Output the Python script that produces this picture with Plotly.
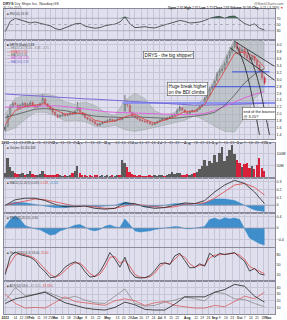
import numpy as np
import pandas as pd
import plotly.graph_objects as go
from plotly.subplots import make_subplots

# ---------------- data: DRYS 2013, one bar per two sessions ----------------
opens = [1.55,1.65,1.98,2.22,2.32,2.26,2.18,2.24,2.32,2.22,
         2.27,2.34,2.26,2.20,2.24,2.32,2.44,2.30,2.22,2.15,
         2.06,1.98,1.92,1.95,2.00,1.96,1.98,2.03,2.00,2.10,
         2.18,2.05,1.98,1.90,1.85,1.82,1.78,1.72,1.68,1.72,
         1.76,1.78,1.82,1.85,1.80,1.82,1.87,1.84,2.10,2.32,
         2.26,2.05,1.95,1.90,1.86,1.82,1.80,1.78,1.76,1.72,
         1.70,1.74,1.78,1.82,1.87,1.84,1.88,1.92,1.96,2.00,
         2.10,2.18,2.12,2.05,2.02,2.06,2.11,2.08,2.14,2.22,
         2.30,2.46,2.56,2.74,2.82,2.98,3.18,3.26,3.32,3.48,
         3.68,3.82,3.95,4.05,3.92,3.80,3.88,3.70,3.62,3.58,
         3.66,3.55,3.42,3.25,3.05]
highs = [1.70,2.00,2.28,2.36,2.36,2.30,2.30,2.35,2.34,2.32,
         2.38,2.36,2.28,2.28,2.34,2.58,2.46,2.32,2.24,2.16,
         2.08,2.00,1.98,2.04,2.02,2.01,2.06,2.05,2.12,2.35,
         2.20,2.06,2.00,1.92,1.88,1.84,1.79,1.74,1.75,1.79,
         1.81,1.85,1.88,1.86,1.85,1.89,1.88,1.91,2.55,2.40,
         2.28,2.07,1.97,1.92,1.88,1.85,1.83,1.80,1.77,1.74,
         1.77,1.81,1.85,1.89,1.88,1.91,1.95,1.99,2.02,2.16,
         2.25,2.20,2.14,2.07,2.10,2.14,2.13,2.18,2.26,2.34,
         2.50,2.60,2.78,2.86,3.00,3.22,3.32,3.40,3.52,3.72,
         3.88,3.98,4.15,4.08,3.95,3.94,3.90,3.76,3.68,3.72,
         3.70,3.58,3.45,3.28,3.10]
lows = [1.49,1.62,1.95,2.18,2.22,2.12,2.15,2.20,2.18,2.18,
        2.24,2.22,2.16,2.18,2.22,2.30,2.26,2.18,2.10,2.00,
        1.94,1.88,1.90,1.93,1.92,1.94,1.96,1.97,1.98,2.08,
        2.02,1.95,1.87,1.82,1.79,1.75,1.69,1.64,1.66,1.70,
        1.74,1.76,1.80,1.77,1.78,1.80,1.81,1.82,2.05,2.20,
        2.02,1.92,1.87,1.83,1.79,1.77,1.75,1.72,1.68,1.66,
        1.68,1.72,1.76,1.80,1.80,1.82,1.86,1.90,1.94,1.98,
        2.08,2.08,2.02,1.98,2.00,2.04,2.04,2.06,2.12,2.20,
        2.28,2.42,2.52,2.68,2.78,2.94,3.10,3.18,3.28,3.42,
        3.60,3.74,3.90,3.82,3.72,3.76,3.64,3.56,3.52,3.55,
        3.48,3.34,3.18,2.98,2.84]
closes = [1.62,1.95,2.20,2.30,2.28,2.18,2.25,2.30,2.22,2.28,
          2.32,2.26,2.20,2.24,2.30,2.45,2.30,2.22,2.15,2.05,
          1.98,1.92,1.95,2.00,1.96,1.98,2.02,2.00,2.08,2.20,
          2.05,1.98,1.90,1.85,1.82,1.78,1.72,1.68,1.72,1.76,
          1.78,1.82,1.84,1.80,1.82,1.86,1.84,1.88,2.30,2.28,
          2.05,1.95,1.90,1.86,1.82,1.80,1.78,1.76,1.72,1.70,
          1.74,1.78,1.82,1.86,1.84,1.88,1.92,1.96,1.98,2.10,
          2.18,2.12,2.05,2.02,2.06,2.10,2.08,2.14,2.22,2.30,
          2.45,2.55,2.72,2.80,2.95,3.15,3.25,3.30,3.45,3.65,
          3.80,3.92,4.05,3.90,3.80,3.85,3.70,3.62,3.58,3.65,
          3.55,3.40,3.25,3.05,2.90]
volumes = [20,80,45,30,22,18,16,20,14,16,
           30,18,14,12,16,28,18,14,12,14,
           12,16,12,10,12,10,12,20,30,50,
           22,14,12,10,12,10,14,12,10,12,
           10,12,10,12,10,14,12,72,60,44,
           26,16,12,10,12,10,8,10,12,10,
           12,10,12,14,10,14,16,24,18,22,
           20,14,12,16,14,18,20,24,36,50,
           72,48,70,60,92,64,100,124,70,90,
           112,132,96,72,60,46,56,60,40,48,
           36,52,80,40,30]

# indicator series sampled every 4 bars (0..104)
ema8 = [1.70,2.10,2.22,2.25,2.30,2.12,2.00,2.02,2.02,1.82,1.76,1.80,1.92,2.00,
        1.84,1.74,1.82,1.92,2.08,2.08,2.28,2.75,3.25,3.75,3.80,3.65,3.35]
ma50 = [1.90,1.98,2.06,2.14,2.16,2.14,2.10,2.04,1.98,1.94,1.92,1.90,1.90,1.92,
        1.90,1.88,1.88,1.88,1.90,1.94,1.98,2.05,2.25,2.55,2.90,3.15,3.32]
ma100 = [2.20,2.21,2.23,2.24,2.25,2.24,2.22,2.18,2.14,2.10,2.07,2.05,2.04,2.03,
         2.02,2.00,1.99,1.98,1.98,1.99,2.02,2.10,2.22,2.36,2.47,2.57,2.65]
ma200 = [2.58,2.56,2.55,2.53,2.51,2.50,2.48,2.46,2.44,2.43,2.42,2.40,2.38,2.36,
         2.35,2.33,2.31,2.29,2.27,2.26,2.26,2.26,2.27,2.28,2.29,2.30,2.31]
bb_upper = [2.00,2.45,2.55,2.55,2.58,2.52,2.35,2.28,2.35,2.25,2.05,1.95,2.40,2.60,
            2.45,2.10,1.95,2.05,2.28,2.25,2.45,3.05,3.60,4.15,4.25,4.18,4.05]
bb_lower = [1.50,1.60,1.85,2.05,2.05,1.95,1.80,1.82,1.78,1.65,1.62,1.68,1.55,1.50,
            1.55,1.62,1.68,1.75,1.82,1.95,1.82,1.65,1.50,1.48,1.90,2.45,2.70]
macd = [0.00,0.07,0.09,0.09,0.06,0.01,-0.02,-0.02,-0.01,-0.04,-0.05,-0.04,0.03,0.02,
        -0.02,-0.04,-0.03,0.00,0.03,0.02,0.06,0.17,0.26,0.32,0.28,0.17,0.02]
macd_signal = [0.00,0.03,0.06,0.08,0.07,0.04,0.01,-0.01,-0.01,-0.02,-0.04,-0.04,-0.01,0.01,
               0.00,-0.02,-0.03,-0.02,0.01,0.02,0.03,0.09,0.18,0.26,0.28,0.23,0.13]
macd_hist = [0.00,0.04,0.03,0.01,-0.01,-0.03,-0.03,-0.01,0.00,-0.02,-0.01,0.00,0.04,0.01,
             -0.02,-0.02,0.00,0.02,0.02,0.00,0.03,0.08,0.08,0.06,0.00,-0.06,-0.08]
adx = [16,23,26,30,33,25,17,13,9,7,6,10,18,14,7,6,6,15,26,26,26,33,37,45,42,27,18]
plus_di = [20,40,28,30,34,28,23,27,21,17,16,27,38,16,12,13,18,21,26,23,20,33,31,23,22,16,11]
minus_di = [30,16,9,10,9,18,26,19,17,15,13,20,23,20,13,17,19,13,11,9,9,13,11,19,27,23,33]

# series sampled every 2 bars (0..104)
rsi = [27,60,70,65,58,55,58,53,50,46,37,33,40,46,52,54,45,41,38,40,46,49,51,58,75,52,
       40,41,43,40,39,44,49,54,58,63,60,55,56,58,63,70,74,76,70,76,77,65,53,47,52,38,32]
momentum = [0.05,0.30,0.42,0.30,0.08,0.02,-0.03,-0.06,-0.15,-0.25,-0.22,-0.10,-0.04,0.02,
            0.10,0.12,0.02,-0.06,-0.10,-0.05,0.06,0.11,0.04,0.02,0.32,0.10,-0.10,-0.14,
            -0.13,-0.10,-0.05,-0.02,0.00,0.02,0.05,0.04,-0.02,-0.03,0.00,0.02,0.05,0.30,
            0.35,0.28,0.36,0.32,0.35,0.30,0.00,-0.35,-0.45,-0.55,-0.60]
sto_k = [20,75,88,80,76,72,62,42,28,10,12,24,42,52,58,50,28,12,14,28,55,86,66,42,72,30,
         12,9,10,16,32,52,55,50,76,84,62,40,41,52,45,84,72,84,80,82,86,72,60,30,38,22,18]
sto_d = [30,55,78,84,80,75,68,52,36,20,12,18,32,46,55,54,40,22,14,20,42,72,74,54,62,44,
         20,12,10,13,24,44,54,52,66,80,72,52,42,48,48,70,78,80,82,82,84,78,66,44,36,28,22]

# drawn levels and trendlines (bar index, price)
hline_levels = [3.22, 2.79, 2.32]
hline_starts = [91, 83, 47]
hline_ends = [106, 108.2, 108.2]
trend_a = ([92, 108], [4.10, 3.38])
trend_b = ([90, 108], [3.92, 2.98])
arc_1 = ([93, 96, 98, 100, 102], [3.95, 3.40, 2.85, 2.15, 1.40])
arc_2 = ([97, 100, 102, 104, 106], [3.85, 3.30, 2.80, 2.10, 1.40])

month_starts = ["2013-01-02","2013-02-01","2013-03-01","2013-04-01","2013-05-01","2013-06-03",
                "2013-07-01","2013-08-01","2013-09-03","2013-10-01","2013-11-01"]
month_labels = ["2013","Feb","Mar","Apr","May","Jun","Jul","Aug","Sep","Oct","Nov"]
holidays = ["2013-01-21","2013-02-18","2013-03-29","2013-05-27","2013-07-04","2013-09-02"]

# ---------------- layout geometry ----------------
W, H = 287, 320
L, R, T, B = 4, 12, 9, 6
PW, PH = W - L - R, H - T - B
def px(x): return (x - L) / PW
def py(y): return 1 - (y - T) / PH
def dom(top, bot): return [py(bot), py(top)]

panels = [(9, 40), (40, 139), (143, 178), (178, 213), (213, 247), (248, 281), (281, 314)]

n = len(closes)
xb = np.arange(n)
x4 = np.arange(0, n, 4)
x2 = np.arange(0, n, 2)

# tick positions from the trading calendar
tdays = pd.bdate_range("2013-01-02", "2013-11-29", freq="C", holidays=holidays)
def bar_of(d):
    return tdays.searchsorted(pd.Timestamp(d)) / 2.0
tickvals, ticktext = [], []
mpos = [bar_of(d) for d in month_starts]
for p, lab in zip(mpos, month_labels):
    tickvals.append(p); ticktext.append("<b>%s</b>" % lab)
for d in pd.date_range("2013-01-07", "2013-10-28", freq="W-MON"):
    p = bar_of(d)
    if min(abs(p - m) for m in mpos) < 1.6:
        continue
    tickvals.append(p); ticktext.append(str(tdays[tdays.searchsorted(d)].day))

BG = "#dfdfee"
GRID = "#c6c6d8"
BORDER = "#8a8a9a"
FONT = "Liberation Sans"

fig = make_subplots(rows=7, cols=1, shared_xaxes=True, vertical_spacing=0)

# --- RSI ---
fig.add_trace(go.Scatter(x=x2, y=[70] * len(x2), mode="lines", line=dict(width=0), hoverinfo="skip"), 1, 1)
fig.add_trace(go.Scatter(x=x2, y=np.maximum(np.array(rsi), 70), mode="lines", line=dict(width=0),
                         fill="tonexty", fillcolor="rgba(38,105,70,0.95)"), 1, 1)
for lvl, dash in [(70, "solid"), (50, "dot"), (30, "solid")]:
    fig.add_hline(y=lvl, line=dict(color="#9a9aaa", width=0.7, dash=dash), row=1, col=1)
fig.add_trace(go.Scatter(x=x2, y=rsi, mode="lines", line=dict(color="#333", width=0.8)), 1, 1)

# --- price panel ---
fig.add_trace(go.Scatter(x=x4, y=bb_upper, mode="lines", line=dict(color="#9aa3a0", width=0.5)), 2, 1)
fig.add_trace(go.Scatter(x=x4, y=bb_lower, mode="lines", line=dict(color="#9aa3a0", width=0.5),
                         fill="tonexty", fillcolor="rgba(160,172,168,0.5)"), 2, 1)
fig.add_trace(go.Scatter(x=[hline_starts[2], hline_ends[2]], y=[hline_levels[2]] * 2, mode="lines",
                         line=dict(color="#8c94f0", width=2)), 2, 1)
fig.add_trace(go.Scatter(x=x4, y=ma200, mode="lines", line=dict(color="#7a6ad8", width=1)), 2, 1)
fig.add_trace(go.Scatter(x=x4, y=ma100, mode="lines", line=dict(color="#dd66dd", width=1)), 2, 1)
fig.add_trace(go.Scatter(x=x4, y=ma50, mode="lines", line=dict(color="#555", width=0.8)), 2, 1)
for i in range(2):
    fig.add_trace(go.Scatter(x=[hline_starts[i], hline_ends[i]], y=[hline_levels[i]] * 2, mode="lines",
                             line=dict(color="#3650e0", width=1)), 2, 1)
fig.add_trace(go.Scatter(x=x4, y=ema8, mode="lines", line=dict(color="#e23a3a", width=0.8)), 2, 1)
for tx, ty in [trend_a, trend_b, arc_1, arc_2]:
    fig.add_trace(go.Scatter(x=tx, y=ty, mode="lines", line=dict(color="#222", width=0.8, shape="spline")), 2, 1)
fig.add_trace(go.Candlestick(x=xb, open=opens, high=highs, low=lows, close=closes,
                             increasing=dict(line=dict(color="#222", width=0.6), fillcolor=BG),
                             decreasing=dict(line=dict(color="#d8102a", width=0.6), fillcolor="#d8102a"),
                             whiskerwidth=0), 2, 1)

# --- volume ---
vcol = ["#d8203a" if c < o else "#5a5a5a" for o, c in zip(opens, closes)]
fig.add_trace(go.Bar(x=xb, y=volumes, marker=dict(color=vcol, line=dict(width=0)), width=0.75), 3, 1)

# --- MACD ---
fig.add_trace(go.Scatter(x=x4, y=macd_hist, mode="lines", line=dict(color="#2f86c8", width=0.5),
                         fill="tozeroy", fillcolor="rgba(47,134,200,0.9)"), 4, 1)
fig.add_hline(y=0, line=dict(color="#9a9aaa", width=0.7), row=4, col=1)
fig.add_trace(go.Scatter(x=x4, y=macd_signal, mode="lines", line=dict(color="#e04848", width=0.8)), 4, 1)
fig.add_trace(go.Scatter(x=x4, y=macd, mode="lines", line=dict(color="#222", width=0.8)), 4, 1)

# --- momentum area ---
fig.add_trace(go.Scatter(x=x2, y=momentum, mode="lines", line=dict(color="#2f86c8", width=0.5),
                         fill="tozeroy", fillcolor="rgba(47,134,200,0.9)"), 5, 1)
fig.add_hline(y=0, line=dict(color="#9a9aaa", width=0.7), row=5, col=1)

# --- stochastic ---
for lvl, dash in [(80, "solid"), (50, "dot"), (20, "solid")]:
    fig.add_hline(y=lvl, line=dict(color="#9a9aaa", width=0.7, dash=dash), row=6, col=1)
fig.add_trace(go.Scatter(x=x2, y=sto_d, mode="lines", line=dict(color="#e04848", width=0.8)), 6, 1)
fig.add_trace(go.Scatter(x=x2, y=sto_k, mode="lines", line=dict(color="#222", width=0.8)), 6, 1)

# --- ADX ---
fig.add_trace(go.Scatter(x=x4, y=plus_di, mode="lines", line=dict(color="#8a8a8a", width=0.8)), 7, 1)
fig.add_trace(go.Scatter(x=x4, y=minus_di, mode="lines", line=dict(color="#d86060", width=0.8)), 7, 1)
fig.add_trace(go.Scatter(x=x4, y=adx, mode="lines", line=dict(color="#222", width=0.8)), 7, 1)

# ---------------- axes ----------------
for r in range(1, 8):
    xa = "xaxis" if r == 1 else "xaxis%d" % r
    fig.layout[xa].update(range=[-0.5, 108.2], domain=[0, 1], showgrid=True, gridcolor=GRID, gridwidth=0.5,
                          tickvals=tickvals, ticktext=ticktext, showticklabels=(r in (2, 7)),
                          tickangle=0, tickfont=dict(size=3.3, color="#222", family=FONT), ticks="",
                          showline=True, mirror=True, linecolor=BORDER, linewidth=0.7,
                          rangeslider=dict(visible=False), zeroline=False, fixedrange=True,
                          automargin=False)

yspec = {
    1: dict(range=[0, 100], tickvals=[30, 50, 70], showgrid=False),
    2: dict(range=[1.28, 4.14], tickvals=[1.4, 1.6, 1.8, 2.0, 2.2, 2.4, 2.6, 2.8, 3.0, 3.2, 3.4, 3.6, 3.8, 4.0],
            ticktext=["1.4", "1.6", "1.8", "2.0", "2.2", "2.4", "2.6", "2.8", "3.0", "3.2", "3.4", "3.6", "3.8", "4.0"],
            showgrid=True),
    3: dict(range=[0, 142], tickvals=[50, 100], ticktext=["50M", "100M"], showgrid=True),
    4: dict(range=[-0.1, 0.35], tickvals=[0.0, 0.1, 0.2, 0.3], showgrid=True),
    5: dict(range=[-0.67, 0.53], tickvals=[-0.4, 0.0, 0.4], showgrid=True),
    6: dict(range=[0, 100], tickvals=[20, 50, 80], showgrid=False),
    7: dict(range=[0, 50], tickvals=[10, 20, 30, 40], showgrid=True),
}
for r in range(1, 8):
    ya = "yaxis" if r == 1 else "yaxis%d" % r
    top, bot = panels[r - 1]
    fig.layout[ya].update(domain=dom(top, bot), side="right", gridcolor=GRID, gridwidth=0.5,
                          tickfont=dict(size=3.6, color="#222", family=FONT), ticks="",
                          showline=True, mirror=True, linecolor=BORDER, linewidth=0.7,
                          zeroline=False, fixedrange=True, automargin=False, **yspec[r])

# ---------------- text ----------------
ann = []
def txt(x, y, s, size=3.6, color="#222", xanchor="left", yanchor="top"):
    ann.append(dict(x=px(x), y=py(y), xref="paper", yref="paper", text=s, showarrow=False,
                    xanchor=xanchor, yanchor=yanchor, font=dict(size=size, color=color, family=FONT)))

txt(0.5, 0.4, "<b>DRYS</b> Dry Ships Inc. Nasdaq GS", size=3.8, color="#333")
txt(0.5, 4.2, "31-Oct-2013", size=3.3, color="#555")
txt(285, 0.4, "@StockCharts.com", size=3.4, color="#555", xanchor="right")
txt(285, 4.4, "<b>Open</b> 2.92 <b>High</b> 2.92 <b>Low</b> 2.72 <b>Close</b> 2.83 <b>Volume</b> 30.5M "
              "<b>Chg</b> -0.11 (-3.74%) <span style='color:#d00'>▼</span>", size=3.2, color="#222", xanchor="right")
txt(5, 9.6, "■ RSI(14) 26.92", size=3.0, color="#444")
txt(5, 40.8, "■ DRYS (Daily) 2.83", size=3.0, color="#222")
txt(5, 44.2, "— BB(20,2.0) 4.05 - 3.38 - 2.71", size=3.0, color="#777")
txt(5, 47.6, "— EMA(8) 3.35", size=3.0, color="#e23a3a")
txt(5, 51.0, "— MA(50) 3.31", size=3.0, color="#555")
txt(5, 54.4, "— MA(100) 2.65", size=3.0, color="#cc44cc")
txt(5, 57.8, "— MA(200) 2.31", size=3.0, color="#6a5acd")
txt(5, 143.6, "■ Volume 30,556,368", size=3.0, color="#444")
txt(5, 178.6, "■ MACD(12,26,9) 0.019, <span style='color:#d44'>0.129</span>, "
              "<span style='color:#2f86c8'>-0.110</span>", size=3.0, color="#444")
txt(5, 213.6, "■ PMO(35,20,10) -0.60", size=3.0, color="#444")
txt(5, 248.6, "■ Slow STO(14,3) 18.00, <span style='color:#d44'>22.00</span>", size=3.0, color="#444")
txt(5, 281.6, "■ ADX(14) 18.0, <span style='color:#888'>+DI 11.0</span>, "
              "<span style='color:#d44'>-DI 33.0</span>", size=3.0, color="#444")

def box(x, y, s, xanchor="center", size=4.6):
    ann.append(dict(x=x, y=y, xref="x2", yref="y2", text=s, showarrow=False, xanchor=xanchor,
                    align="left", bgcolor="white", bordercolor="#555", borderwidth=0.6, borderpad=1,
                    font=dict(size=size, color="#111", family=FONT)))

box(65.4, 3.70, "DRYS - the big shipper!")
box(73.0, 2.72, "Huge break higher<br>on the BDI climbs")
box(95.0, 2.02, "end of the bounce<br>@ 3.20?", xanchor="left", size=3.9)

fig.update_layout(width=W, height=H, margin=dict(l=L, r=R, t=T, b=B, autoexpand=False),
                  paper_bgcolor="white", plot_bgcolor=BG, showlegend=False, annotations=ann,
                  hovermode=False, bargap=0, font=dict(family=FONT))

fig.write_html("out.html")
